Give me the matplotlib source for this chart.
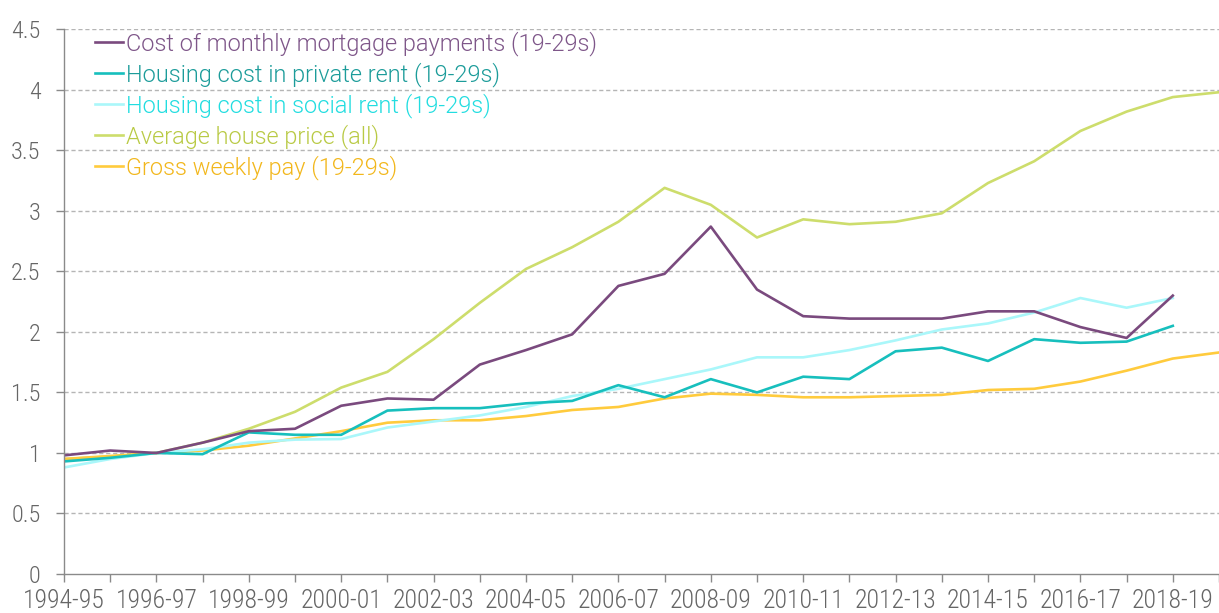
import matplotlib
matplotlib.use('Agg')
import matplotlib.pyplot as plt
import numpy as np

plt.rcParams['font.family'] = ['Roboto Condensed', 'DejaVu Sans']

# Financial years, 1994-95 onwards
years = ['1994-95', '1995-96', '1996-97', '1997-98', '1998-99', '1999-00', '2000-01',
         '2001-02', '2002-03', '2003-04', '2004-05', '2005-06', '2006-07', '2007-08',
         '2008-09', '2009-10', '2010-11', '2011-12', '2012-13', '2013-14', '2014-15',
         '2015-16', '2016-17', '2017-18', '2018-19', '2019-20']

# Index values (1996-97 = 1)
mortgage = [0.98, 1.02, 1.00, 1.085, 1.18, 1.20, 1.39, 1.45, 1.44, 1.73, 1.85, 1.98, 2.38,
            2.48, 2.87, 2.35, 2.13, 2.11, 2.11, 2.11, 2.17, 2.17, 2.04, 1.95, 2.30]
private_rent = [0.93, 0.96, 1.00, 0.99, 1.17, 1.15, 1.15, 1.35, 1.37, 1.37, 1.41, 1.43, 1.56,
                1.46, 1.61, 1.50, 1.63, 1.61, 1.84, 1.87, 1.76, 1.94, 1.91, 1.92, 2.05]
social_rent = [0.88, 0.95, 1.00, 1.03, 1.085, 1.11, 1.115, 1.21, 1.26, 1.31, 1.38, 1.47, 1.53,
               1.61, 1.69, 1.79, 1.79, 1.85, 1.93, 2.02, 2.07, 2.16, 2.28, 2.20, 2.28]
house_price = [0.95, 0.97, 1.00, 1.085, 1.20, 1.34, 1.54, 1.67, 1.94, 2.24, 2.52, 2.70, 2.91,
               3.19, 3.05, 2.78, 2.93, 2.89, 2.91, 2.98, 3.23, 3.41, 3.66, 3.82, 3.94, 3.98]
weekly_pay = [0.95, 0.975, 1.00, 1.02, 1.06, 1.12, 1.18, 1.25, 1.27, 1.27, 1.305, 1.355, 1.38,
              1.45, 1.49, 1.48, 1.46, 1.46, 1.47, 1.48, 1.52, 1.53, 1.59, 1.68, 1.78, 1.83]

series = [
    ('Cost of monthly mortgage payments (19-29s)', mortgage, '#7a4a7e', '#7e5689'),
    ('Housing cost in private rent (19-29s)', private_rent, '#17bfbd', '#1c9c9a'),
    ('Housing cost in social rent (19-29s)', social_rent, '#aaf7fa', '#22dde0'),
    ('Average house price (all)', house_price, '#cddd6c', '#b9ca45'),
    ('Gross weekly pay (19-29s)', weekly_pay, '#ffcb3d', '#f2b71c'),
]

fig = plt.figure(figsize=(12.19, 6.13), dpi=100)
ax = fig.add_axes([64 / 1219, 1 - 574 / 613, 1 - 64 / 1219, (574 - 29.3) / 613])

x = np.arange(len(years))
draw_order = [3, 4, 2, 1, 0]
handles = {}
for k in draw_order:
    label, vals, col, _ = series[k]
    h, = ax.plot(x[:len(vals)], vals, color=col, lw=1.9, label=label)
    handles[k] = h

ax.set_xlim(0, 24.75)
ax.set_ylim(0, 4.5)
ax.set_yticks(np.arange(0, 4.51, 0.5))
ax.set_yticklabels(['0', '0.5', '1', '1.5', '2', '2.5', '3', '3.5', '4', '4.5'])
ax.set_xticks(x[::2])
ax.set_xticklabels(years[::2])
ax.set_xticks(x, minor=True)

for v in np.arange(0.5, 4.51, 0.5):
    ax.axhline(v, color='#b5b5b5', lw=1.0, ls=(0, (3, 2)), zorder=0)

for s in ['top', 'right']:
    ax.spines[s].set_visible(False)
for s in ['left', 'bottom']:
    ax.spines[s].set_color('#8a8a8a')
    ax.spines[s].set_linewidth(1.0)

ax.tick_params(axis='both', which='both', colors='#8a8a8a', length=6, width=1.0)
ax.tick_params(axis='y', which='major', labelsize=17.5, labelcolor='#666666', pad=11)
ax.tick_params(axis='x', which='major', labelsize=18.5, labelcolor='#666666', pad=5)
for t in ax.get_xticklabels() + ax.get_yticklabels():
    t.set_fontweight(300)

leg = ax.legend([handles[k] for k in range(5)], [s[0] for s in series],
                loc='upper left', bbox_to_anchor=(95 / 1219, 1 - 31 / 613),
                bbox_transform=fig.transFigure, frameon=False,
                prop={'family': ['Roboto', 'DejaVu Sans'], 'weight': 300, 'size': 17},
                handlelength=1.2, handletextpad=0.1, labelspacing=0.26,
                borderpad=0, borderaxespad=0,
                labelcolor=[s[3] for s in series])

fig.savefig('out.png', dpi=100)
